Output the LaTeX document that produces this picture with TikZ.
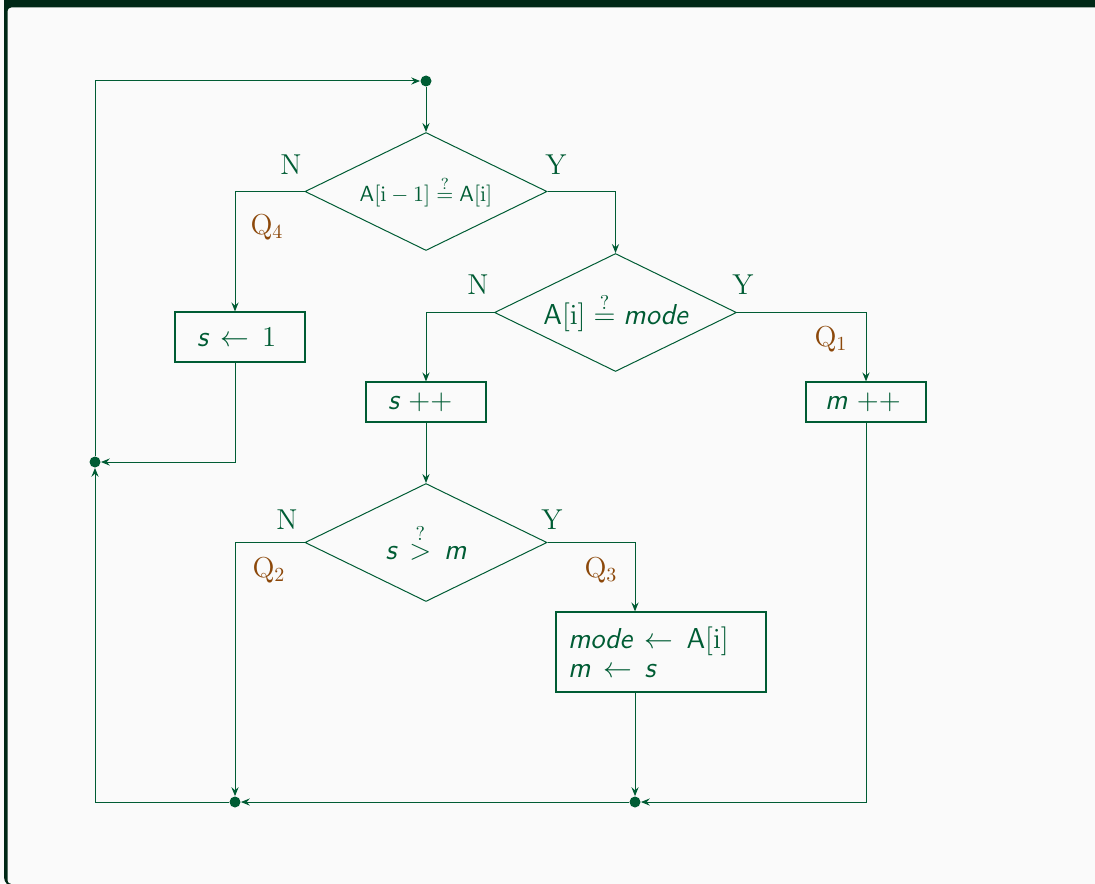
\documentclass[tikz,border=0pt]{standalone}
\usetikzlibrary{shapes.geometric,arrows.meta,calc}
\definecolor{fg}{RGB}{0,92,52}
\definecolor{framec}{RGB}{0,40,22}
\definecolor{bgc}{RGB}{250,250,250}
\definecolor{qc}{RGB}{140,72,10}
\newcommand\myvar[1]{\textsf{\itshape #1}}
\tikzset{
  dec/.style={diamond, draw=fg, line width=0.5pt, aspect=2, inner sep=0pt,
    minimum width=121pt, minimum height=59pt, text=fg},
  stepbox/.style={draw=fg, line width=0.6pt, rectangle, align=left, text=fg,
    font=\fontsize{14.4}{14.5}\selectfont},
  dot/.style={circle, fill=fg, inner sep=0pt, minimum size=5.5pt},
  arr/.style={draw=fg, line width=0.5pt, -{Stealth[length=4.5pt,width=3.6pt,inset=1.6pt]}},
  yn/.style={text=fg, font=\fontsize{14.4}{17}\selectfont},
  qlbl/.style={text=qc, font=\fontsize{14.4}{17}\selectfont},
}
\begin{document}
\begin{tikzpicture}[x=0.5pt,y=-0.5pt]
\useasboundingbox (0,0) rectangle (1095,883);
% frame
\begin{scope}
\clip (0,0) rectangle (1095,883);
\fill[bgc] (0,0) rectangle (1095,883);
\fill[framec, rounded corners=5pt] (4,-30) rectangle (1200,887);
\fill[bgc, rounded corners=2pt] (7.5,7.5) rectangle (1200,884);
\end{scope}
% junction dots
\node[dot] (pT) at (426,81) {};
\node[dot] (pL) at (95,462) {};
\node[dot] (pB1) at (235,802) {};
\node[dot] (pB2) at (635,802) {};
% decisions
\node[dec, font=\fontsize{10.95}{13}\selectfont] (d1) at (426,191.5)
  {$\mathsf{A}[\mathrm{i}-1]\stackrel{?}{=}\mathsf{A}[\mathrm{i}]$};
\node[dec, font=\fontsize{14.4}{17}\selectfont] (d2) at (615.5,312.5)
  {$\mathsf{A}[\mathrm{i}]\stackrel{?}{=}\myvar{mode}$};
\node[dec, font=\fontsize{14.4}{17}\selectfont] (d3) at (426,542.5)
  {$\myvar{s}\,\stackrel{?}{>}\,\myvar{m}$};
% boxes
\node[stepbox, inner xsep=11pt, text width=43pt, minimum height=25pt] (b1) at (240,337)
  {$\myvar{s}\,\leftarrow\,1$};
\node[stepbox, inner xsep=11pt, text width=38pt, minimum height=20pt] (b2) at (426,402)
  {$\myvar{s}\ {+}{+}$};
\node[stepbox, inner xsep=9.5pt, text width=41pt, minimum height=20pt] (b3) at (866,402)
  {$\myvar{m}\ {+}{+}$};
\node[stepbox, inner xsep=6pt, text width=93pt, minimum height=40pt] (b4) at (661,652)
  {$\myvar{mode}\,\leftarrow\,\mathsf{A}[\mathrm{i}]$\\$\myvar{m}\,\leftarrow\,\myvar{s}$};
% labels
\node[yn] (n1) at (291,165) {N};
\node[yn] (y1) at (556,165) {Y};
\node[yn] (n2) at (478,285) {N};
\node[yn] (y2) at (743,285) {Y};
\node[yn] (n3) at (287,520) {N};
\node[yn] (y3) at (552,520) {Y};
\node[qlbl] (q4) at (267,227) {Q$_4$};
\node[qlbl] (q1) at (831,339) {Q$_1$};
\node[qlbl] (q2) at (269,570) {Q$_2$};
\node[qlbl] (q3) at (601,570) {Q$_3$};
% connectors
\draw[arr] (pL) |- (pT);
\draw[arr] (pT) -- (d1);
\draw[arr] (d1.east) -| (d2.north);
\draw[arr] (d1.west) -| (b1.north -| pB1);
\draw[arr] (d2.west) -| (b2.north);
\draw[arr] (d2.east) -| (b3.north);
\draw[arr] (b1.south -| pB1) |- (pL);
\draw[arr] (b2) -- (d3);
\draw[arr] (d3.east) -| (b4.north -| pB2);
\draw[arr] (d3.west) -| (pB1);
\draw[arr] (b4.south -| pB2) -- (pB2);
\draw[arr] (b3) |- (pB2);
\draw[arr] (pB2) -- (pB1);
\draw[arr] (pB1) -| (pL);
\end{tikzpicture}
\end{document}
